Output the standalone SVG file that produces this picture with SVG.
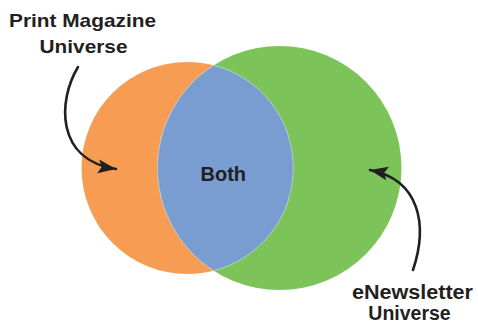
<svg xmlns="http://www.w3.org/2000/svg" width="478" height="324" viewBox="0 0 478 324">
<style>
.lbl{font-family:"Liberation Sans",Arial,sans-serif;font-weight:bold;fill:#231F20;text-anchor:middle}
.conn{fill:none;stroke:#231F20;stroke-width:2.6;stroke-linecap:round}
</style>
<defs>
<marker id="ah" markerUnits="userSpaceOnUse" markerWidth="20" markerHeight="16" viewBox="0 0 20 16" refX="18" refY="7" orient="auto">
<path d="M0,0 L18,7 L0,14 L3.5,7 Z" fill="#231F20"/>
</marker>
</defs>
<rect width="478" height="324" fill="#ffffff"/>
<g id="print-circle">
<circle cx="187.5" cy="168" r="106" fill="#F79D53"/>
</g>
<g id="enews-circle">
<circle cx="279.5" cy="168" r="122" fill="#7CC35A"/>
</g>
<g id="both">
<path d="M213.67,65.3 A122,122 0 0 0 213.67,270.7 A106,106 0 0 0 213.67,65.3 Z" fill="#7A9DD1" stroke="#ffffff" stroke-opacity="0.5" stroke-width="0.8"/>
<text class="lbl" x="223.3" y="181" font-size="20">Both</text>
</g>
<g id="print-label">
<text class="lbl" x="82.5" y="26.5" font-size="19" textLength="147" lengthAdjust="spacingAndGlyphs">Print Magazine</text>
<text class="lbl" x="83.5" y="53" font-size="19" textLength="88" lengthAdjust="spacingAndGlyphs">Universe</text>
</g>
<g id="enews-label">
<text class="lbl" x="412.5" y="298.5" font-size="20" textLength="121" lengthAdjust="spacingAndGlyphs">eNewsletter</text>
<text class="lbl" x="409.5" y="319.5" font-size="19.5">Universe</text>
</g>
<g id="connectors">
<path class="conn" d="M78,67 C58,100 55,160 116,169" marker-end="url(#ah)"/>
<path class="conn" d="M413,270 C428,225 420,180 370,170" marker-end="url(#ah)"/>
</g>
</svg>
